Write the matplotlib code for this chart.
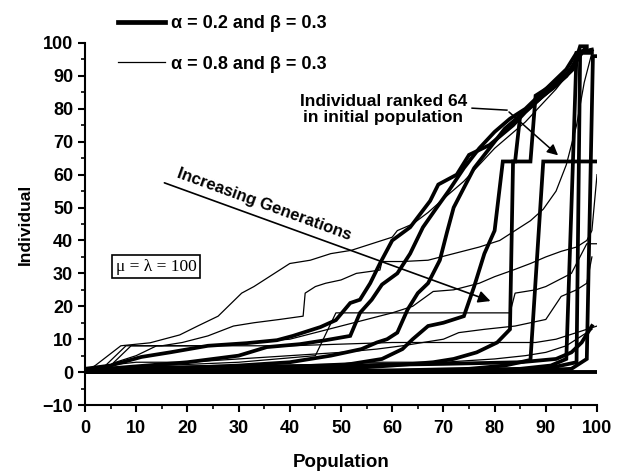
import matplotlib
matplotlib.use('Agg')
import matplotlib.pyplot as plt
from matplotlib.ticker import MultipleLocator
from matplotlib.lines import Line2D

plt.rcParams['font.family'] = ['Liberation Sans', 'DejaVu Sans']
plt.rcParams['font.weight'] = 'bold'

# alpha = 0.2, beta = 0.3 (thick lines), one curve per generation: (population, individual)
thick_x = [
    [0, 5, 11, 16.6, 24, 31.6, 37.5, 40.6, 46, 49, 51.8, 53.7, 55.7, 57.6, 60, 63.5, 67.4, 69, 72.6, 75, 79, 83.6, 86, 89.5, 92, 95.3, 96.7, 98],
    [0, 20, 30, 35.5, 42, 47, 51.8, 53.7, 56, 58, 61, 63.5, 66, 68.7, 71, 74, 77, 80, 83, 86, 88, 90, 92, 94, 96, 98],
    [0, 30, 40, 48, 54, 57, 59, 61, 63, 65, 67, 69.3, 70.7, 72, 74, 76, 79, 82, 85, 88, 91, 94, 96, 97.5],
    [0, 40, 50, 58, 62, 64, 67, 70, 74, 76, 78, 80, 81.6, 84, 85, 88, 91, 94, 97],
    [0, 50, 60, 68, 72, 76.5, 80.5, 83, 83.6, 87, 88, 92, 95, 97],
    [0, 60, 75, 82, 85, 87, 89.5, 95.3, 96, 99],
    [0, 70, 85, 91, 94, 95.3, 100],
    [0, 75, 90, 96, 96.7, 99],
    [0, 80, 95, 98, 99.2, 100],
    [3, 20, 50, 70, 85, 92, 95, 97, 99],
]
thick_y = [
    [1, 2, 4.6, 6, 8, 8.8, 9.7, 11, 13.7, 15.8, 21, 22, 27, 33, 40, 44, 52, 57, 60, 66, 69, 75, 79, 84, 87, 92, 99, 99],
    [0.5, 3, 5, 7.6, 8.5, 9.7, 11, 18, 22, 26.6, 30, 36, 44, 50, 55, 62, 68, 73, 77, 80, 83, 86, 89, 92, 97, 98],
    [0, 2, 3, 5, 7, 9, 10, 12, 19, 24, 27, 34, 42.5, 50, 56, 62, 68, 74, 78, 82, 86, 90, 95, 98],
    [0, 1, 2, 4, 7, 10, 14, 15, 17, 26, 36, 43, 64, 64, 78, 82, 86, 90, 97],
    [0, 1, 2, 3, 4, 6, 9, 13, 64, 64, 84, 88, 92, 97],
    [0, 0.5, 1, 2, 3, 3.7, 64, 64, 97, 98],
    [0, 0.5, 1, 2, 4, 64, 64],
    [0, 0.5, 1, 3, 97, 97],
    [0, 0, 1, 4, 96, 96],
    [1, 1.5, 2, 2.5, 3, 4, 6, 9, 14],
]

# alpha = 0.8, beta = 0.3 (thin lines)
thin_x = [
    [1, 2, 7, 12.7, 18.5, 22, 26, 30.6, 33, 36, 40, 44, 48, 52, 56, 60, 61, 64, 67, 71, 74, 77, 80, 83, 86, 89, 92, 94, 96, 98],
    [2, 4, 8, 15, 19, 24, 29, 33, 38, 42.6, 43, 45, 47, 50, 53, 57.6, 58, 62, 67, 72, 77, 81, 84, 87, 89.5, 92, 94, 96, 97.5, 99],
    [3, 5, 9, 25, 32, 40, 45, 50, 55, 60, 64, 68, 72, 77, 80, 83.6, 87, 90, 93, 96, 98, 99, 100],
    [1, 4, 10, 20, 30, 40, 50, 57, 62, 66, 70, 73, 78, 84, 90, 93, 96, 98, 99],
    [1, 10, 25, 40, 55, 70, 80, 86, 90, 94, 96.7, 99],
    [5, 15, 30, 45, 49, 83, 84, 88, 90, 95, 98, 100],
    [2, 6, 10, 14, 40, 60, 88, 92, 96, 100],
]
thin_y = [
    [1, 2, 8, 8.9, 11.3, 14, 17, 24, 26, 29, 33, 34, 36, 37, 39, 41, 43, 45, 48.5, 54, 58, 63, 68, 72, 76, 81, 86, 90, 95, 98],
    [1, 2, 8, 8, 9, 11, 14, 15, 16, 17, 24, 26, 27, 28, 30, 31, 33.6, 33.6, 34, 36, 38, 40, 43, 46, 49.5, 55, 63, 75, 88, 97],
    [1, 2, 8, 8, 9, 10, 12, 14, 16, 18, 20, 24.5, 25, 27, 29, 31, 33, 35, 36.7, 38, 40, 43, 60],
    [0, 2, 3, 3, 4, 5, 6, 7, 8, 9, 10, 12, 13, 14, 16, 23, 25, 27, 35],
    [0, 1, 2, 2, 3, 3, 4, 5, 6, 8, 10.7, 13],
    [1, 2, 3, 5, 18, 18, 24, 25, 26, 30, 39, 39],
    [0, 3, 5, 8, 8, 9, 9, 10, 12, 14],
]

fig = plt.figure(figsize=(6.19, 4.72), dpi=100)
ax = fig.add_axes([0.1373, 0.1419, 0.8272, 0.767])

for xs, ys in zip(thin_x, thin_y):
    ax.plot(xs, ys, color='black', lw=0.9)
for xs, ys in zip(thick_x, thick_y):
    ax.plot(xs, ys, color='black', lw=2.7, solid_joinstyle='miter')
ax.axhline(0, color='black', lw=2.8)

ax.set_xlim(0, 100)
ax.set_ylim(-10, 100)
ax.xaxis.set_major_locator(MultipleLocator(10))
ax.xaxis.set_minor_locator(MultipleLocator(5))
ax.yaxis.set_major_locator(MultipleLocator(10))
ax.yaxis.set_minor_locator(MultipleLocator(5))
ax.tick_params(which='major', direction='out', length=5, width=1.5, labelsize=13)
ax.tick_params(axis='x', which='major', pad=6)
ax.tick_params(which='minor', direction='out', length=3, width=1.2)
for s in ['top', 'right']:
    ax.spines[s].set_visible(False)
for s in ['left', 'bottom']:
    ax.spines[s].set_linewidth(1.5)
for lab in ax.get_xticklabels() + ax.get_yticklabels():
    lab.set_fontweight('bold')

ax.set_xlabel('Population', fontsize=13.5, fontweight='bold', labelpad=12)
ax.set_ylabel('Individual', fontsize=12.5, fontweight='bold', labelpad=7)

# legend
handles = [Line2D([], [], color='black', lw=3.4), Line2D([], [], color='black', lw=0.9)]
labels = ['α = 0.2 and β = 0.3', 'α = 0.8 and β = 0.3']
fig.legend(handles, labels, loc='upper left', bbox_to_anchor=(0.19, 0.968), frameon=False,
           handlelength=2.6, handletextpad=0.35, labelspacing=1.3,
           borderpad=0, borderaxespad=0, prop={'weight': 'bold', 'size': 13})

# increasing generations arrow
ax.annotate('', xy=(79.7, 21.3), xytext=(15, 57.8),
            arrowprops=dict(arrowstyle='-|>', color='black', lw=1.2, mutation_scale=18))
ax.text(35.0, 50.8, 'Increasing Generations', rotation=-20, ha='center', va='center',
        fontsize=12, fontweight='bold')

# individual ranked 64
ax.text(74.6, 79.8, 'Individual ranked 64\nin initial population', ha='right', va='center',
        multialignment='center', fontsize=12.5, fontweight='bold', linespacing=1.05)
ax.plot([75.6, 82.4], [80.2, 79.6], color='black', lw=1.1)
ax.annotate('', xy=(92.8, 65.3), xytext=(82.4, 79.6),
            arrowprops=dict(arrowstyle='-|>', color='black', lw=1.1, mutation_scale=16))

ax.text(13.9, 32.0, 'μ = λ = 100', ha='center', va='center', fontsize=12.5, fontweight='normal',
        family=['Liberation Serif', 'DejaVu Serif'],
        bbox=dict(boxstyle='square,pad=0.2', facecolor='white', edgecolor='black', lw=1.2))

fig.savefig('out.png', dpi=100)
